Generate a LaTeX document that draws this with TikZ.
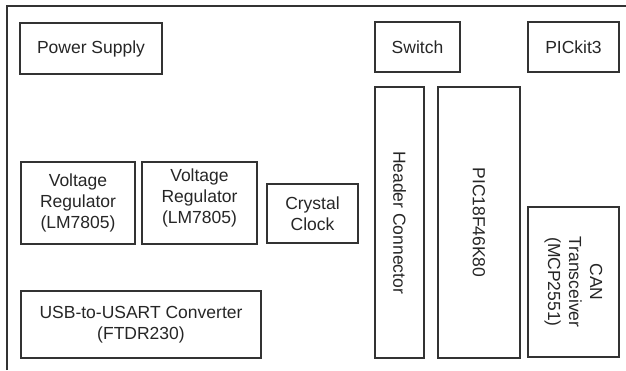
\documentclass[tikz,border=0pt]{standalone}
\usepackage{fontspec}
\setmainfont{Liberation Sans}
\begin{document}
\begin{tikzpicture}[x=1pt,y=-1pt,
  box/.style={draw=black!80, line width=1.3pt, inner sep=0pt, align=center, text=black!85,
    font=\fontsize{17.5}{21}\selectfont},
  txt/.style={inner sep=0pt, align=center, text=black!85, font=\fontsize{17.5}{21}\selectfont}]
\useasboundingbox (0,0) rectangle (626,370);
\coordinate (fa) at (7,370);
\coordinate (fb) at (7,6);
\coordinate (fc) at (626,6);
\draw[black!80, line width=1.3pt] (fa) -- (fb) -- (fc);
\node[box, minimum width=142pt, minimum height=51pt] (ps) at (91,48.5) {Power Supply};
\node[box, minimum width=85pt, minimum height=50pt] (sw) at (417.5,47) {Switch};
\node[box, minimum width=91pt, minimum height=50pt] (pk) at (573.5,47) {PICkit3};
\node[box, rotate=-90, minimum width=271pt, minimum height=49pt] (hc) at (399.5,222.5) {Header Connector};
\node[box, rotate=-90, minimum width=271pt, minimum height=82pt] (pic) at (479,222.5) {PIC18F46K80};
\node[box, rotate=-90, minimum width=150pt, minimum height=91pt] (can) at (573.5,282) {CAN\\Transceiver\\(MCP2551)};
\node[box, minimum width=114pt, minimum height=82pt] (vr1) at (78,203) {Voltage\\Regulator\\(LM7805)};
\node[box, minimum width=115pt, minimum height=82pt] (vr2) at (199.5,203) {};
\node[txt] (vr2t) at (199.5,198) {Voltage\\Regulator\\(LM7805)};
\node[box, minimum width=91pt, minimum height=59pt] (cc) at (312.5,213.5) {Crystal\\Clock};
\node[box, minimum width=240pt, minimum height=67pt] (usb) at (141,324.5) {USB-to-USART Converter\\(FTDR230)};
\end{tikzpicture}
\end{document}
